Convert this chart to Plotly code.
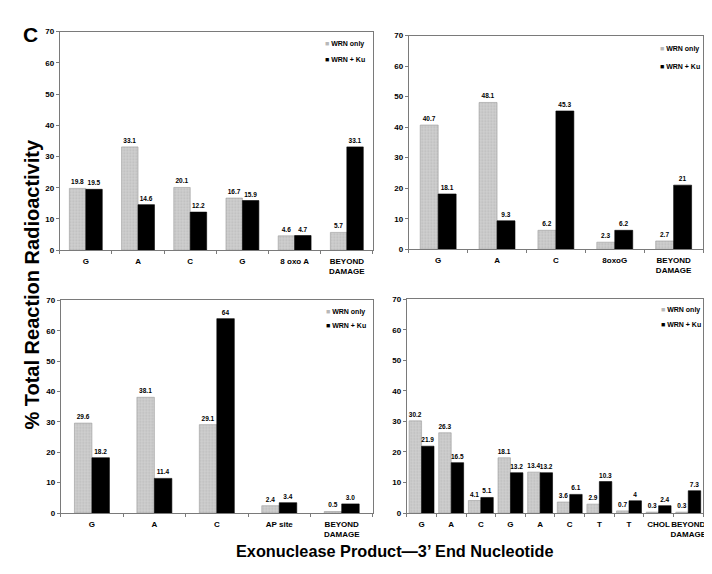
import plotly.graph_objects as go

W, H = 712, 574

# ---- data ----
p1_labels = ["G", "A", "C", "G", "8 oxo A", "BEYOND<br>DAMAGE"]
p1_wrn = [19.8, 33.1, 20.1, 16.7, 4.6, 5.7]
p1_ku = [19.5, 14.6, 12.2, 15.9, 4.7, 33.1]
p1_wrn_txt = ["19.8", "33.1", "20.1", "16.7", "4.6", "5.7"]
p1_ku_txt = ["19.5", "14.6", "12.2", "15.9", "4.7", "33.1"]

p2_labels = ["G", "A", "C", "8oxoG", "BEYOND<br>DAMAGE"]
p2_wrn = [40.7, 48.1, 6.2, 2.3, 2.7]
p2_ku = [18.1, 9.3, 45.3, 6.2, 21]
p2_wrn_txt = ["40.7", "48.1", "6.2", "2.3", "2.7"]
p2_ku_txt = ["18.1", "9.3", "45.3", "6.2", "21"]

p3_labels = ["G", "A", "C", "AP site", "BEYOND<br>DAMAGE"]
p3_wrn = [29.6, 38.1, 29.1, 2.4, 0.5]
p3_ku = [18.2, 11.4, 64, 3.4, 3.0]
p3_wrn_txt = ["29.6", "38.1", "29.1", "2.4", "0.5"]
p3_ku_txt = ["18.2", "11.4", "64", "3.4", "3.0"]

p4_labels = ["G", "A", "C", "G", "A", "C", "T", "T", "CHOL", "BEYOND<br>DAMAGE"]
p4_wrn = [30.2, 26.3, 4.1, 18.1, 13.4, 3.6, 2.9, 0.7, 0.3, 0.3]
p4_ku = [21.9, 16.5, 5.1, 13.2, 13.2, 6.1, 10.3, 4, 2.4, 7.3]
p4_wrn_txt = ["30.2", "26.3", "4.1", "18.1", "13.4", "3.6", "2.9", "0.7", "0.3", "0.3"]
p4_ku_txt = ["21.9", "16.5", "5.1", "13.2", "13.2", "6.1", "10.3", "4", "2.4", "7.3"]

series_names = ["WRN only", "WRN + Ku"]
y_ticks = [0, 10, 20, 30, 40, 50, 60, 70]

FONT = "Liberation Sans, Arial, sans-serif"
GRAY_BG = "#cfcfcf"
AXC = "#7a7a7a"

# labels, wrn, ku, wrn_txt, ku_txt, px box (x0,x1,y0,y1), bargap, legend px (x, y1, y2)
panels = [
    (p1_labels, p1_wrn, p1_ku, p1_wrn_txt, p1_ku_txt, (52, 367, 20, 242), 0.37, (317, 33, 48)),
    (p2_labels, p2_wrn, p2_ku, p2_wrn_txt, p2_ku_txt, (403, 699, 24, 241), 0.39, (654, 38, 55)),
    (p3_labels, p3_wrn, p3_ku, p3_wrn_txt, p3_ku_txt, (53, 367, 293, 509), 0.44, (318, 305, 319)),
    (p4_labels, p4_wrn, p4_ku, p4_wrn_txt, p4_ku_txt, (401, 699, 292, 509), 0.16, (655, 303, 317)),
]

fig = go.Figure()
layout = dict(
    width=W, height=H, margin=dict(l=0, r=0, t=0, b=0),
    paper_bgcolor="white", plot_bgcolor="white",
    barmode="group", bargroupgap=0, showlegend=False,
    font=dict(family=FONT, color="black"),
)

for i, (labels, wrn, ku, wt, kt, box, gap, lg) in enumerate(panels):
    n = len(labels)
    idx = "" if i == 0 else str(i + 1)
    xa, ya = "x" + idx, "y" + idx
    xs = list(range(n))
    x0, x1, y0, y1 = box
    bw = (1 - gap) / 2
    common = dict(xaxis=xa, yaxis=ya, textposition="outside", cliponaxis=False,
                  constraintext="none", width=bw,
                  textfont=dict(size=6.5, family=FONT, weight="bold", color="black"),
                  hoverinfo="skip")
    fig.add_trace(go.Bar(x=xs, y=wrn, text=wt, name=series_names[0], offset=-bw,
                         marker=dict(color=GRAY_BG,
                                     pattern=dict(shape=".", fgcolor="#a8a8a8", bgcolor=GRAY_BG,
                                                  size=3, solidity=0.35),
                                     line=dict(color="#9a9a9a", width=0.6)),
                         **common))
    fig.add_trace(go.Bar(x=xs, y=ku, text=kt, name=series_names[1], offset=0,
                         marker=dict(color="black", line=dict(color="black", width=0.6)),
                         **common))
    layout["xaxis" + idx] = dict(
        domain=[x0 / W, x1 / W], anchor=ya,
        range=[-0.5, n - 0.5], tickmode="array", tickvals=xs, ticktext=labels,
        tickangle=0, ticks="", showline=True, linecolor=AXC, linewidth=1, mirror=True,
        showgrid=False, zeroline=False,
        tickfont=dict(size=8, family=FONT, weight="bold", color="black"),
        ticklabelstandoff=3,
        minor=dict(tickmode="array", tickvals=[k + 0.5 for k in range(-1, n)],
                   ticks="outside", ticklen=3, tickcolor=AXC, tickwidth=1, showgrid=False),
    )
    layout["yaxis" + idx] = dict(
        domain=[1 - y1 / H, 1 - y0 / H], anchor=xa,
        range=[0, 70], tickmode="array", tickvals=y_ticks,
        ticks="outside", ticklen=3, tickcolor=AXC,
        showline=True, linecolor=AXC, linewidth=1, mirror=True,
        showgrid=False, zeroline=False,
        tickfont=dict(size=8, family=FONT, weight="bold", color="black"),
    )
    # legend drawn as text
    lx, ly1, ly2 = lg
    fig.add_annotation(text='<span style="color:#b8b8b8">■</span> ' + series_names[0],
                       x=lx / W, y=1 - ly1 / H, xref="paper", yref="paper",
                       xanchor="left", yanchor="middle", showarrow=False,
                       font=dict(size=7, family=FONT, weight="bold", color="black"))
    fig.add_annotation(text='■ ' + series_names[1],
                       x=lx / W, y=1 - ly2 / H, xref="paper", yref="paper",
                       xanchor="left", yanchor="middle", showarrow=False,
                       font=dict(size=7, family=FONT, weight="bold", color="black"))

fig.update_layout(**layout)

fig.add_annotation(text="<b>% Total Reaction Radioactivity</b>", textangle=-90,
                   x=11 / W, y=1 - 276 / H, xref="paper", yref="paper",
                   showarrow=False, font=dict(size=20, family=FONT, color="black"))
fig.add_annotation(text="<b>Exonuclease Product—3’ End Nucleotide</b>",
                   x=389 / W, y=1 - 559 / H, xref="paper", yref="paper",
                   showarrow=False, font=dict(size=16.3, family=FONT, color="black"))
fig.add_annotation(text="<b>C</b>", x=13 / W, y=1 - 9 / H, xref="paper", yref="paper",
                   showarrow=False, font=dict(size=21, family=FONT, color="black"))

fig.write_html("out.html")
